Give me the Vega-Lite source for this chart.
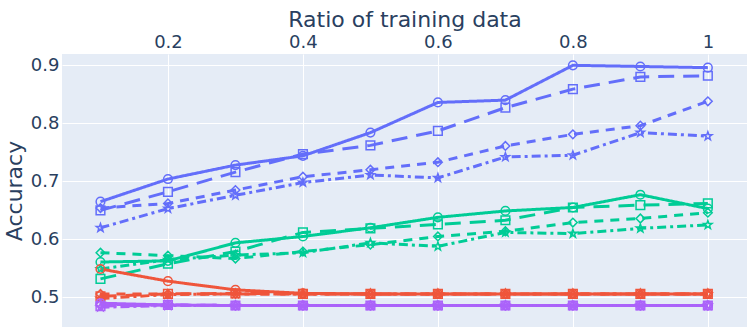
{
  "$schema": "https://vega.github.io/schema/vega-lite/v6.json",
  "width": 685,
  "height": 273,
  "autosize": {"type": "none"},
  "padding": {"left": 62, "top": 54, "right": 0, "bottom": 0},
  "background": "white",
  "config": {
    "view": {"fill": "#E5ECF6", "stroke": null},
    "font": "DejaVu Sans",
    "axis": {"domain": false, "ticks": false, "gridColor": "white", "gridWidth": 1, "labelColor": "#2a3f5f", "titleColor": "#2a3f5f", "labelFont": "DejaVu Sans", "titleFont": "DejaVu Sans", "labelFontSize": 18, "titleFontSize": 22, "titleFontWeight": "normal"}
  },
  "data": {"values": [
    {"g":"blue","s":"solid","x":0.1,"y":0.665},{"g":"blue","s":"solid","x":0.2,"y":0.704},{"g":"blue","s":"solid","x":0.3,"y":0.728},{"g":"blue","s":"solid","x":0.4,"y":0.744},{"g":"blue","s":"solid","x":0.5,"y":0.784},{"g":"blue","s":"solid","x":0.6,"y":0.836},{"g":"blue","s":"solid","x":0.7,"y":0.840},{"g":"blue","s":"solid","x":0.8,"y":0.900},{"g":"blue","s":"solid","x":0.9,"y":0.898},{"g":"blue","s":"solid","x":1.0,"y":0.896},
    {"g":"blue","s":"longdash","x":0.1,"y":0.650},{"g":"blue","s":"longdash","x":0.2,"y":0.682},{"g":"blue","s":"longdash","x":0.3,"y":0.716},{"g":"blue","s":"longdash","x":0.4,"y":0.747},{"g":"blue","s":"longdash","x":0.5,"y":0.762},{"g":"blue","s":"longdash","x":0.6,"y":0.787},{"g":"blue","s":"longdash","x":0.7,"y":0.827},{"g":"blue","s":"longdash","x":0.8,"y":0.859},{"g":"blue","s":"longdash","x":0.9,"y":0.880},{"g":"blue","s":"longdash","x":1.0,"y":0.882},
    {"g":"blue","s":"dash","x":0.1,"y":0.654},{"g":"blue","s":"dash","x":0.2,"y":0.662},{"g":"blue","s":"dash","x":0.3,"y":0.685},{"g":"blue","s":"dash","x":0.4,"y":0.708},{"g":"blue","s":"dash","x":0.5,"y":0.720},{"g":"blue","s":"dash","x":0.6,"y":0.733},{"g":"blue","s":"dash","x":0.7,"y":0.761},{"g":"blue","s":"dash","x":0.8,"y":0.781},{"g":"blue","s":"dash","x":0.9,"y":0.796},{"g":"blue","s":"dash","x":1.0,"y":0.838},
    {"g":"blue","s":"dashdot","x":0.1,"y":0.620},{"g":"blue","s":"dashdot","x":0.2,"y":0.653},{"g":"blue","s":"dashdot","x":0.3,"y":0.676},{"g":"blue","s":"dashdot","x":0.4,"y":0.698},{"g":"blue","s":"dashdot","x":0.5,"y":0.711},{"g":"blue","s":"dashdot","x":0.6,"y":0.706},{"g":"blue","s":"dashdot","x":0.7,"y":0.742},{"g":"blue","s":"dashdot","x":0.8,"y":0.745},{"g":"blue","s":"dashdot","x":0.9,"y":0.784},{"g":"blue","s":"dashdot","x":1.0,"y":0.778},
    {"g":"green","s":"solid","x":0.1,"y":0.561},{"g":"green","s":"solid","x":0.2,"y":0.563},{"g":"green","s":"solid","x":0.3,"y":0.594},{"g":"green","s":"solid","x":0.4,"y":0.605},{"g":"green","s":"solid","x":0.5,"y":0.620},{"g":"green","s":"solid","x":0.6,"y":0.638},{"g":"green","s":"solid","x":0.7,"y":0.649},{"g":"green","s":"solid","x":0.8,"y":0.655},{"g":"green","s":"solid","x":0.9,"y":0.677},{"g":"green","s":"solid","x":1.0,"y":0.653},
    {"g":"green","s":"longdash","x":0.1,"y":0.532},{"g":"green","s":"longdash","x":0.2,"y":0.558},{"g":"green","s":"longdash","x":0.3,"y":0.579},{"g":"green","s":"longdash","x":0.4,"y":0.612},{"g":"green","s":"longdash","x":0.5,"y":0.619},{"g":"green","s":"longdash","x":0.6,"y":0.626},{"g":"green","s":"longdash","x":0.7,"y":0.633},{"g":"green","s":"longdash","x":0.8,"y":0.655},{"g":"green","s":"longdash","x":0.9,"y":0.659},{"g":"green","s":"longdash","x":1.0,"y":0.662},
    {"g":"green","s":"dash","x":0.1,"y":0.577},{"g":"green","s":"dash","x":0.2,"y":0.572},{"g":"green","s":"dash","x":0.3,"y":0.567},{"g":"green","s":"dash","x":0.4,"y":0.579},{"g":"green","s":"dash","x":0.5,"y":0.591},{"g":"green","s":"dash","x":0.6,"y":0.605},{"g":"green","s":"dash","x":0.7,"y":0.614},{"g":"green","s":"dash","x":0.8,"y":0.629},{"g":"green","s":"dash","x":0.9,"y":0.636},{"g":"green","s":"dash","x":1.0,"y":0.646},
    {"g":"green","s":"dashdot","x":0.1,"y":0.549},{"g":"green","s":"dashdot","x":0.2,"y":0.565},{"g":"green","s":"dashdot","x":0.3,"y":0.573},{"g":"green","s":"dashdot","x":0.4,"y":0.577},{"g":"green","s":"dashdot","x":0.5,"y":0.594},{"g":"green","s":"dashdot","x":0.6,"y":0.588},{"g":"green","s":"dashdot","x":0.7,"y":0.612},{"g":"green","s":"dashdot","x":0.8,"y":0.610},{"g":"green","s":"dashdot","x":0.9,"y":0.619},{"g":"green","s":"dashdot","x":1.0,"y":0.625},
    {"g":"red","s":"solid","x":0.1,"y":0.549},{"g":"red","s":"solid","x":0.2,"y":0.528},{"g":"red","s":"solid","x":0.3,"y":0.513},{"g":"red","s":"solid","x":0.4,"y":0.507},{"g":"red","s":"solid","x":0.5,"y":0.506},{"g":"red","s":"solid","x":0.6,"y":0.506},{"g":"red","s":"solid","x":0.7,"y":0.506},{"g":"red","s":"solid","x":0.8,"y":0.506},{"g":"red","s":"solid","x":0.9,"y":0.506},{"g":"red","s":"solid","x":1.0,"y":0.506},
    {"g":"red","s":"longdash","x":0.1,"y":0.502},{"g":"red","s":"longdash","x":0.2,"y":0.506},{"g":"red","s":"longdash","x":0.3,"y":0.507},{"g":"red","s":"longdash","x":0.4,"y":0.506},{"g":"red","s":"longdash","x":0.5,"y":0.506},{"g":"red","s":"longdash","x":0.6,"y":0.506},{"g":"red","s":"longdash","x":0.7,"y":0.506},{"g":"red","s":"longdash","x":0.8,"y":0.506},{"g":"red","s":"longdash","x":0.9,"y":0.506},{"g":"red","s":"longdash","x":1.0,"y":0.506},
    {"g":"red","s":"dash","x":0.1,"y":0.506},{"g":"red","s":"dash","x":0.2,"y":0.506},{"g":"red","s":"dash","x":0.3,"y":0.506},{"g":"red","s":"dash","x":0.4,"y":0.506},{"g":"red","s":"dash","x":0.5,"y":0.506},{"g":"red","s":"dash","x":0.6,"y":0.506},{"g":"red","s":"dash","x":0.7,"y":0.506},{"g":"red","s":"dash","x":0.8,"y":0.506},{"g":"red","s":"dash","x":0.9,"y":0.506},{"g":"red","s":"dash","x":1.0,"y":0.506},
    {"g":"red","s":"dashdot","x":0.1,"y":0.498},{"g":"red","s":"dashdot","x":0.2,"y":0.505},{"g":"red","s":"dashdot","x":0.3,"y":0.506},{"g":"red","s":"dashdot","x":0.4,"y":0.506},{"g":"red","s":"dashdot","x":0.5,"y":0.506},{"g":"red","s":"dashdot","x":0.6,"y":0.506},{"g":"red","s":"dashdot","x":0.7,"y":0.506},{"g":"red","s":"dashdot","x":0.8,"y":0.506},{"g":"red","s":"dashdot","x":0.9,"y":0.506},{"g":"red","s":"dashdot","x":1.0,"y":0.506},
    {"g":"purple","s":"solid","x":0.1,"y":0.490},{"g":"purple","s":"solid","x":0.2,"y":0.487},{"g":"purple","s":"solid","x":0.3,"y":0.486},{"g":"purple","s":"solid","x":0.4,"y":0.486},{"g":"purple","s":"solid","x":0.5,"y":0.486},{"g":"purple","s":"solid","x":0.6,"y":0.486},{"g":"purple","s":"solid","x":0.7,"y":0.486},{"g":"purple","s":"solid","x":0.8,"y":0.486},{"g":"purple","s":"solid","x":0.9,"y":0.486},{"g":"purple","s":"solid","x":1.0,"y":0.486},
    {"g":"purple","s":"longdash","x":0.1,"y":0.485},{"g":"purple","s":"longdash","x":0.2,"y":0.487},{"g":"purple","s":"longdash","x":0.3,"y":0.486},{"g":"purple","s":"longdash","x":0.4,"y":0.486},{"g":"purple","s":"longdash","x":0.5,"y":0.486},{"g":"purple","s":"longdash","x":0.6,"y":0.486},{"g":"purple","s":"longdash","x":0.7,"y":0.486},{"g":"purple","s":"longdash","x":0.8,"y":0.486},{"g":"purple","s":"longdash","x":0.9,"y":0.486},{"g":"purple","s":"longdash","x":1.0,"y":0.486},
    {"g":"purple","s":"dash","x":0.1,"y":0.488},{"g":"purple","s":"dash","x":0.2,"y":0.487},{"g":"purple","s":"dash","x":0.3,"y":0.486},{"g":"purple","s":"dash","x":0.4,"y":0.486},{"g":"purple","s":"dash","x":0.5,"y":0.486},{"g":"purple","s":"dash","x":0.6,"y":0.486},{"g":"purple","s":"dash","x":0.7,"y":0.486},{"g":"purple","s":"dash","x":0.8,"y":0.486},{"g":"purple","s":"dash","x":0.9,"y":0.486},{"g":"purple","s":"dash","x":1.0,"y":0.486},
    {"g":"purple","s":"dashdot","x":0.1,"y":0.483},{"g":"purple","s":"dashdot","x":0.2,"y":0.486},{"g":"purple","s":"dashdot","x":0.3,"y":0.486},{"g":"purple","s":"dashdot","x":0.4,"y":0.486},{"g":"purple","s":"dashdot","x":0.5,"y":0.486},{"g":"purple","s":"dashdot","x":0.6,"y":0.486},{"g":"purple","s":"dashdot","x":0.7,"y":0.486},{"g":"purple","s":"dashdot","x":0.8,"y":0.486},{"g":"purple","s":"dashdot","x":0.9,"y":0.486},{"g":"purple","s":"dashdot","x":1.0,"y":0.486}
  ]},
  "encoding": {
    "x": {"field": "x", "type": "quantitative", "scale": {"domain": [0.043, 1.058], "nice": false, "zero": false},
      "axis": {"orient": "top", "title": "Ratio of training data", "values": [0.2, 0.4, 0.6, 0.8, 1], "format": "~g", "labelPadding": 3, "titlePadding": 2, "grid": true}},
    "y": {"field": "y", "type": "quantitative", "scale": {"domain": [0.449, 0.9195], "nice": false, "zero": false},
      "axis": {"title": "Accuracy", "values": [0.5, 0.6, 0.7, 0.8, 0.9], "format": "~g", "labelPadding": 3, "titlePadding": 4, "grid": true}},
    "color": {"field": "g", "type": "nominal", "legend": null,
      "scale": {"domain": ["blue", "green", "red", "purple"], "range": ["#636efa", "#00cc96", "#EF553B", "#ab63fa"]}},
    "detail": {"field": "s", "type": "nominal"}
  },
  "layer": [
    {
      "mark": {"type": "line", "strokeWidth": 3, "clip": true},
      "encoding": {
        "strokeDash": {"field": "s", "type": "nominal", "legend": null,
          "scale": {"domain": ["solid", "longdash", "dash", "dashdot"], "range": [[1, 0], [16, 9], [9, 7], [9, 4, 3, 4]]}}
      }
    },
    {
      "mark": {"type": "point", "filled": false, "strokeWidth": 1.5, "size": 75, "opacity": 1, "clip": true},
      "encoding": {
        "shape": {"field": "s", "type": "nominal", "legend": null,
          "scale": {"domain": ["solid", "longdash", "dash", "dashdot"], "range": ["circle", "square", "diamond", "M0,-1L0.235,-0.324L0.951,-0.309L0.380,0.124L0.588,0.809L0,0.4L-0.588,0.809L-0.380,0.124L-0.951,-0.309L-0.235,-0.324Z"]}}
      }
    }
  ]
}
